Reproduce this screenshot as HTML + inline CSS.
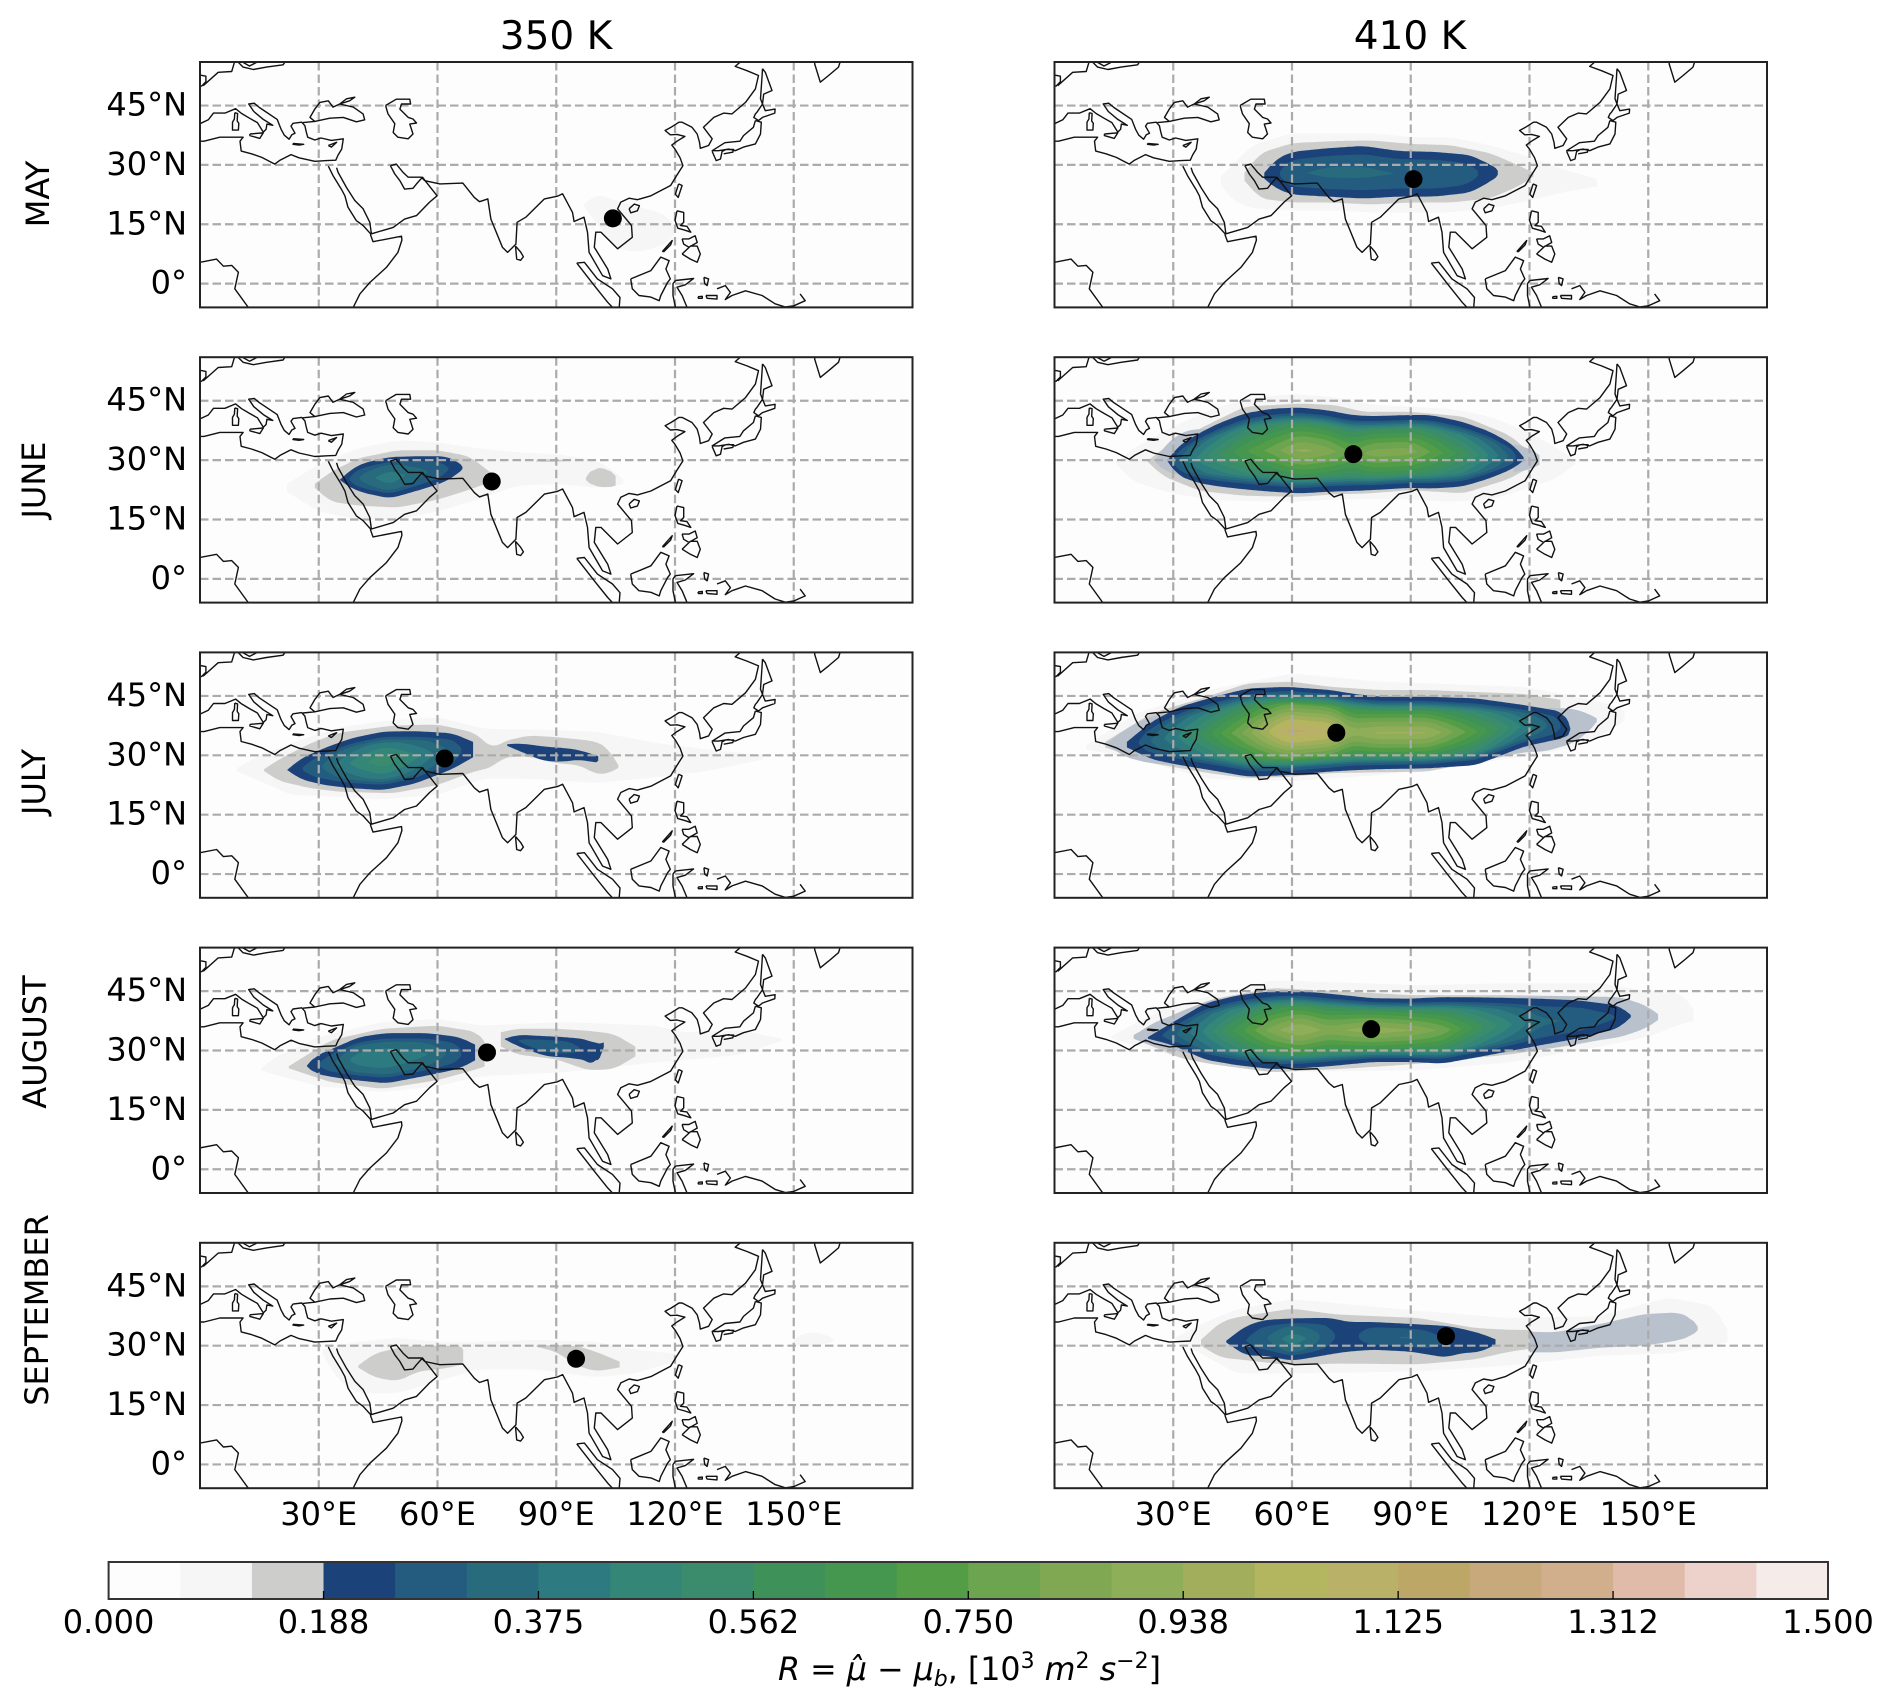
<!DOCTYPE html>
<html>
<head>
<meta charset="utf-8">
<title>Monthly R anomaly maps at 350 K and 410 K</title>
<style>
html,body{margin:0;padding:0;background:#fff;}
svg{display:block;}
text{font-family:"DejaVu Sans","Liberation Sans",sans-serif;fill:#000;}
</style>
</head>
<body>
<svg id="figure" xmlns="http://www.w3.org/2000/svg" width="1892" height="1706" viewBox="0 0 1892 1706">
  <rect x="0" y="0" width="1892" height="1706" fill="#fff"/>
  <text x="556" y="49" font-size="39" text-anchor="middle">350 K</text>
  <text x="1410" y="49" font-size="39" text-anchor="middle">410 K</text>
  <text transform="translate(49,194) rotate(-90)" font-size="32" text-anchor="middle">MAY</text>
  <text transform="translate(45,480) rotate(-90)" font-size="32" text-anchor="middle">JUNE</text>
  <text transform="translate(45,782) rotate(-90)" font-size="32" text-anchor="middle">JULY</text>
  <text transform="translate(46,1042) rotate(-90)" font-size="32" text-anchor="middle">AUGUST</text>
  <text transform="translate(48,1310) rotate(-90)" font-size="32" text-anchor="middle">SEPTEMBER</text>
  <text x="778" y="1680" font-size="31.7"><tspan font-style="italic">R</tspan> = <tspan font-style="italic">μ̂</tspan> − <tspan font-style="italic">μ</tspan><tspan font-style="italic" font-size="22" dy="6">b</tspan><tspan dy="-6">, [10</tspan><tspan font-size="22" dy="-12">3</tspan><tspan dy="12"> </tspan><tspan font-style="italic">m</tspan><tspan font-size="22" dy="-12">2</tspan><tspan dy="12"> </tspan><tspan font-style="italic">s</tspan><tspan font-size="22" dy="-12">−2</tspan><tspan dy="12">]</tspan></text>
</svg>
<script>
/* ---------- value arrays (lon, north lat, south lat[, ridge value]) ---------- */
const lonTicks = [30, 60, 90, 120, 150];
const lonTickLabels = ["30°E", "60°E", "90°E", "120°E", "150°E"];
const latTicks = [45, 30, 15, 0];
const latTickLabels = ["45°N", "30°N", "15°N", "0°"];
const colorbarTicks = [0, 0.1875, 0.375, 0.5625, 0.75, 0.9375, 1.125, 1.3125, 1.5];
const colorbarTickLabels = ["0.000", "0.188", "0.375", "0.562", "0.750", "0.938", "1.125", "1.312", "1.500"];
const levelColors = ["#fdfdfd","#f6f6f6","#cdcecb","#1b4279","#245c80","#276b7d","#2d7b80","#348677","#3a8c6c","#3d9159","#45964f","#539d47","#6ca44f","#80a852","#8fae5a","#a3ae5c","#b4b65f","#bab169","#bda767","#c8a97c","#d1ae8c","#e0bbaa","#edd1cb","#f5ebe9"];

const may350Light = [[97,20.1,19.5],[100.4,22.7,15],[105,21,9],[110,19.5,8],[115,18.4,8.9],[119,16.5,11],[120,13.5,13]];
const may350Marker = [104.3,16.5];

const may410Light = [[42,27,25],[45,30,21],[50,35,19],[60,38,18.5],[70,38,18.5],[80,38,18],[90,37,18],[100,37,18],[110,35,19],[120,32,21],[128,29,23],[137,26.5,24.5]];
const may410Gray = [[48,28,26],[52,33,21.5],[60,35.5,20.5],[70,36,20.5],[80,36.2,20],[90,35.3,20.5],[100,35,20.5],[110,33,21.5],[117,30,24.5],[121,28,27]];
const may410Core = [[53,28,26.5,.19],[56,31.5,24,.24],[60,33.3,22.5,.3],[68.8,34.2,22,.33],[78,34.8,21.5,.33],[87,33.5,22,.31],[96,33.3,22,.31],[105,32.5,23,.28],[111.4,29.5,26.5,.2],[112.3,28,28,.19]];
const may410Marker = [90.7,26.4];

const jun350Light = [[22,24,22],[30,29,17],[40,33,15],[50,35,15],[60,34.5,17],[70,33,20],[80,32,23.5],[90,31.5,24],[100,30,23],[105,27,23.5],[107,25,24]];
const jun350Gray = [[29,24,23],[33,27,19.5],[40,30.5,18.5],[50,32.5,18],[60,32.5,20],[68,31,22.5],[72,28,24],[75,25.5,24.5]];
const jun350GrayEast = [[97.5,25.5,25],[99,28,23.5],[103,28,23],[105,26,23.5]];
const jun350GrayMid = [[85,30,29.6],[88,30.3,29.5],[92,30,29.7]];
const jun350Core = [[35.3,25,25,.19],[38,27.5,23,.26],[41,29.2,21.8,.34],[48,30.8,20.3,.42],[56,31,22.6,.33],[62,31,24.5,.27],[65.5,29.5,26.8,.2],[66.5,28,28,.19]];
const jun350Marker = [73.7,24.6];

const jun410Light = [[15.5,29.5,29],[20,33,24.5],[30,38.5,21.5],[40,43,20],[50,45.7,19.6],[60,46.7,19.5],[70,46,20],[80,44,20.2],[90,43.5,20],[100,43,19.5],[110,41,20],[120,37,23],[127,33,25.5],[131.6,30,29]];
const jun410Gray = [[23.5,29.8,29.6],[27.5,33,25.9],[36.8,38,22.2],[48,43.5,21],[62,44.3,20.7],[71,43.9,21.4],[78,42.2,21.5],[90,42.2,22.4],[103.4,41,21.6],[115,36.3,25.3],[122.4,30,29.6]];
const jun410Tail = [[25.5,30,29.5],[28,34,27],[33,37.5,26],[36.5,37.8,27],[40,38,30]];
const jun410TailEast = [[116,34,27],[120,33,27.5],[122.8,31,29]];
const jun410Core = [[28.5,29.8,29.8,.19],[31,33.4,26.2,.3],[36,36.5,24.3,.45],[41,39.1,23.4,.55],[48,41.8,22.6,.68],[55,43,22,.78],[62,43.3,21.6,.9],[69,42.6,22,.85],[75,41.4,22.2,.75],[80,41.1,22.4,.85],[90,41.4,23,.85],[95,41.4,22.8,.75],[103,39.7,23.3,.6],[110,37.2,25.4,.43],[116,33.8,27.9,.28],[118.6,30.6,30,.19]];
const jun410Marker = [75.5,31.5];

const jul350Light = [[9.3,26.7,26],[15,30,23.5],[23,33,20],[35,37,19.5],[45,38.5,18.8],[60,39.7,20],[71.8,36.7,24.2],[85,36.5,24],[100,36,23],[116,33,24.5],[128,31.5,26],[142.5,30,29]];
const jul350Gray = [[16.2,26.5,26],[20,29,23.5],[27.8,33,21.7],[35,35.7,20.8],[48.7,37.5,20.4],[60,37.8,22.5],[69.5,35.7,26],[74,31.5,27],[76.5,33.5,29.5],[83,35,29.7],[90,34.6,28],[96,34,27.5],[100,33.5,25.2],[103,32,25.3],[106,27,27]];
const jul350Core = [[22,26.3,26.3,.19],[25.5,29.2,23.9,.25],[31.3,31.8,22.5,.32],[38.2,34.3,21.7,.45],[46.3,36,21.2,.55],[54.5,36.1,22.9,.45],[63.7,35.6,26.5,.3],[69,33.4,29.5,.2],[69.3,30,29.7,.19]];
const jul350CoreEast = [[77.6,32.8,32.4,.19],[81.1,33,30.9,.22],[87,32.2,28.5,.22],[92.5,31.8,28.4,.22],[96,31.3,29,.22],[100,30,28,.21],[101,29.6,29,.19]];
const jul350Marker = [61.8,29.2];

const jul410Light = [[8,32.5,31.5],[20.7,40.6,29],[39,46.5,24],[60,50.7,23.5],[82,48.6,25],[118.6,47.3,29.6],[131,45,32],[140,43,36],[144.3,41,39]];
const jul410Gray = [[12.8,33.4,32],[24.5,40.6,28],[39,45,25.5],[48.9,48.2,24.2],[60,48.6,24.6],[69.7,47.3,25.5],[82,46.5,25.7],[94.2,46.5,25.9],[118.6,45.5,30.7],[128,44,33]];
const jul410Tail = [[13.5,33.2,32.5],[18,36.7,29.5],[24,39.7,28],[40,43,27],[100,42,28],[118,41.5,30.7],[124,42,31],[131,41.8,33],[135,40.5,36],[137,39.3,38.5]];
const jul410Core = [[18.3,33.4,32,.19],[24.5,38.5,29,.32],[31.8,42.3,27.5,.45],[40.4,44.8,26.1,.65],[48.9,46.9,24.6,.85],[58.7,47.3,25,1.15],[69.7,46.5,25.9,1.1],[75,45.6,26.2,.9],[82,44.8,26.5,.95],[94.2,44.8,26.7,.95],[106.4,44.4,27.5,.7],[118.6,42.7,32.2,.42],[128.4,41,34.3,.25],[129.9,38.9,34.5,.2],[130.3,36.8,36.5,.19]];
const jul410Marker = [71.2,35.7];

const aug350Light = [[15.5,25.5,25],[18.4,28,24],[30,33.4,21],[46,37.2,19.5],[60,38,21],[71,36.3,23.5],[92,37.2,24.5],[115,36.3,27],[122,34.6,27.5],[137,35,29],[147,33,32.5]];
const aug350Gray = [[22.4,26,25.5],[33,32.6,22],[46,35.5,20.3],[60,36.3,22.5],[70,34.7,25.3],[72,32,26]];
const aug350GrayEast = [[76,34.6,31],[80,35.5,29],[90,35.5,27.8],[98,35,25],[104.6,34.2,25.3],[110,31,28.5]];
const aug350Core = [[27,26.2,26,.19],[29,28.5,24.2,.24],[33.3,30.4,23.3,.3],[40.2,33.4,22.4,.42],[47,34.4,21.7,.44],[57.5,34.4,23.7,.38],[65.5,33.4,25.4,.27],[69.5,31.5,27.5,.19]];
const aug350CoreEast = [[77,33,32.8,.19],[80.5,34,31,.26],[87.5,33.6,28.5,.3],[92,33.4,28.3,.3],[98,32.8,27.5,.23],[100,31.5,25.5,.2],[102.3,32.1,31.6,.19]];
const aug350Marker = [72.5,29.5];

const aug410Light = [[14.4,33.7,33],[28.7,41,29],[55,47.8,24.6],[92,46.5,25],[115,47,27],[138,47,31],[150,45,33.5],[158.6,44.4,36.8],[161.5,40.2,37.5]];
const aug410Gray = [[20,34,33],[32,40,28],[40,43,26.5],[55,45.8,24.5],[75,44.8,25.5],[90,44,26.5],[115,44,29],[132,43.7,31.5],[142,42.7,33.5],[146,40,37]];
const aug410Tail = [[20,33.8,33],[25,37,31],[40,43,28],[100,43,28],[125,43.8,30.5],[132,43.7,31.8],[143,43.5,33.4],[149.4,41.4,35.6],[152.9,38.9,38]];
const aug410Core = [[23.6,33.4,33,.19],[30,37.2,31.3,.3],[38,41.9,27.7,.45],[46,43.9,26.3,.65],[55,45,25.3,.85],[62,45,25.5,.95],[69,44.4,26,.85],[80.5,43.2,27.1,.92],[90,43.1,27.1,.88],[98,43.5,26.7,.8],[109,43.4,28.7,.55],[122,43.1,31.2,.33],[132,42.7,33,.3],[142.5,41.4,35.6,.25],[145.7,38.9,38.5,.19]];
const aug410Marker = [80,35.4];

const sep350Light = [[31,29,28],[35,30,21],[40,31,18],[50,32,18],[60,31,21],[70,31,24],[85,31.5,24],[100,31,22],[110,29,23],[120,28,26]];
const sep350LightEast = [[150,31.5,30.5],[153,33.5,29.5],[158,33,30.5],[160,31.5,31]];
const sep350Gray = [[40,25,24.5],[44,28,22],[50,29.5,21],[55,30,23.5],[60,30,24],[66,30,25],[66.5,29,26]];
const sep350GrayEast = [[85,30,29.7],[90,30.2,28.5],[95,30,25],[100,28.5,23.5],[106,26,24.5]];
const sep350Marker = [95,26.7];

const sep410Light = [[30.5,32,31.5],[36,35,28.5],[46,39.2,23],[60,41.8,23],[92,38.8,23.5],[115,37,25],[138,37.5,27.5],[155,42.2,28],[166.7,40,30],[170,34,31]];
const sep410Gray = [[37,31.5,30],[42,36,27],[46,37.2,26.6],[60,39.4,25],[71,37.9,25.5],[92,37,25.3],[106,34.5,26.5],[115,34,28.5],[122,34,29.5],[122.5,31,30]];
const sep410Tail = [[120,33.5,28.3],[126.5,33.4,28.3],[138,35.5,29.5],[149,38,30],[157.5,38.4,31.3],[161,37,32.5],[162.6,34.6,34]];
const sep410Core = [[43.4,31.3,30.8,.19],[48.3,35,27.5,.25],[53,36.5,27.5,.3],[60,36.9,26.2,.42],[65,37,27,.36],[70,37,27.9,.26],[74,36,28.5,.22],[80.5,36,29,.3],[90,35.5,28.5,.32],[99,35,27,.25],[102,34.5,28,.23],[108,33,28.5,.21],[111.7,31.5,30.5,.19]];
const sep410Marker = [98.9,32.4];

/* ---------- coastlines (lon, lat) ---------- */
const coastMediterranean = [[0,40.4],[2.1,41.4],[3.4,43.1],[6.3,43.1],[9,44.2],[10.5,43],[12.5,41.8],[14.5,40.7],[16,38.3],[16.7,39],[16.9,40.3],[18.4,40],[16,41.5],[13.6,43.5],[12.3,45.4],[13.7,45.6],[15,44.5],[19.5,41.5],[20.5,39],[21.3,37.5],[22.5,36.5],[23.2,37.6],[24,38],[23,39.8],[23.5,40.5],[25.7,40.8],[26.5,39.9],[26.8,38.5],[27.2,37],[29,36.3],[30.6,36.8],[33.2,36.2],[36.2,36.6],[35.8,34],[34.9,32.5],[34.3,31.2],[32,31.1],[29,30.9],[25,31.8],[23,32.6],[20.2,31.2],[18.9,30.2],[15.6,31.9],[13,32.8],[10.4,33.5],[10.1,36],[10.9,37],[5,37],[1,36],[0,36]];
const coastBlackSea = [[26,40.7],[29,41],[32.8,41.8],[36.2,42],[39.5,40.9],[41.6,41.4],[41.2,42.9],[38.7,44.6],[35.3,45.4],[33.6,44.6],[32.4,46.2],[30.3,45.8],[29,44.1],[27.8,42],[29,41]];
const coastAzov = [[35.3,45.4],[37,46.7],[39.1,47.1],[37.8,46.2],[35.3,45.4]];
const coastNorthEurope = [[0.8,50],[4.6,53.4],[8,53.6],[8.7,55.9]];
const coastBritain = [[0,52.7],[1.5,52.4],[1.5,51],[0.4,49.9],[0,49.9]];
const coastBaltic = [[9.7,55.9],[10.9,54.7],[13.5,54.1],[16.8,54.7],[21,55.3],[21.4,55.9]];
const coastZealand = [[10.9,55.9],[12.5,55],[14.3,55.9]];
const coastCrete = [[23.5,35.4],[26.2,35.2],[25,35],[23.5,35.2],[23.5,35.4]];
const coastCyprus = [[32.4,34.9],[34.5,35.7],[33.2,34.5],[32.4,34.9]];
const coastCorsicaSardinia = [[8.8,43.2],[9.5,43],[9.4,41.1],[9.8,40.5],[9.7,38.8],[8.2,38.8],[8.2,40.8],[8.7,41.6],[8.8,43.2]];
const coastSicily = [[12.6,37.8],[16,38.1],[15.1,36.7],[12.6,37.4],[12.6,37.8]];
const coastCaspian = [[46.9,45],[49.6,46.6],[53,46.6],[53.2,45.4],[50.9,45.4],[50.5,44.1],[52.6,42],[53.8,41.6],[54.7,40.6],[53,40.3],[53.8,37.8],[52.6,36.6],[50,37],[48.8,38.2],[49.2,40.4],[47.5,42.9],[46.9,45]];
const coastRedSeaAfrica = [[32.4,29.7],[33.6,27.3],[35.7,23.9],[36.6,22.2],[37.4,19.3],[39.5,15.9],[41.2,14.7],[43.1,12.6],[43.1,12.3],[43.7,10.6],[50.9,12],[51,11],[50,7.9],[47.1,4.1],[42.9,0.3],[40.4,-2.6],[38.7,-6]];
const coastArabia = [[34.5,29.3],[34.9,28.1],[37,24.3],[39.1,21],[41.2,18.9],[42.9,15.5],[43.3,12.6],[48.8,14.2],[51.7,16.3],[54.7,17.2],[58,20.6],[59.9,22.2],[57.2,25.6],[56.2,26.9],[54.7,25.2],[53.8,24.1],[51.7,23.9],[50.5,26],[49.2,27.7],[48.1,29.8]];
const coastSouthAsia = [[48.1,29.8],[49.6,30.2],[51.3,28.1],[52.6,26.9],[55.9,26.9],[56.8,26],[60.6,25.2],[66.4,25.4],[69.3,21.8],[70.6,20.7],[72.7,21.4],[73.5,16.3],[76.4,9.2],[77.7,7.9],[79.8,10],[80.1,15.5],[82.3,16.8],[87,21.4],[90.3,22.1],[91.6,22.7],[94.1,18],[94.5,15.7],[97,16.8],[97.9,13],[98.3,7.9],[101.7,2],[103.8,1.2],[103,3.7],[99.6,9.2],[100,13],[101.3,13],[105.5,8.8],[109.2,11.7],[109,14.7],[105.5,18.9],[106.3,20.6],[108.4,21.6],[110.5,21.2],[113.9,22.2],[118.9,24.8],[120.4,27.3],[122,29.8],[121.3,31.8],[120,34],[119.2,35],[120.5,36],[122.5,37.2],[120.5,37.7],[118.8,37.6],[117.5,38.7],[119,39.5],[121,40.8],[121.8,40.8],[124.3,39.5],[125.6,37.8],[126.2,35.7],[126.4,34.2],[128.5,34.9],[129.4,36.6],[127.2,39.5],[129.8,42],[132.3,43.1],[134.4,42.9],[137.8,45.8],[140.3,49.2],[141.1,52.6],[138.2,53.8],[135.2,54.9],[136.5,56]];
const coastSriLanka = [[79.7,9.5],[81,8],[81.7,6.8],[81,5.9],[80,6.2],[79.7,9.5]];
const coastHainan = [[108.4,18.9],[109.7,20.1],[111,19.7],[110.5,18.4],[108.8,17.9],[108.4,18.9]];
const coastTaiwan = [[120.9,25.2],[121.8,24.8],[120.8,21.8],[120.1,22.6],[120.9,25.2]];
const coastSakhalin = [[142.1,54.3],[142.8,53.4],[144.5,48.8],[142.4,47.9],[142.1,45.4],[141.6,46.7],[142,52.6],[142.1,54.3]];
const coastHokkaido = [[140.7,43.3],[142.1,45.4],[142.8,43.7],[145.3,44.1],[145.2,43.1],[142.1,42],[141.1,41.2],[139.9,42],[140.3,42.9],[140.7,43.3]];
const coastHonshu = [[140.3,41.2],[141.8,40.8],[141.6,37.8],[140.3,35.3],[137.3,34.5],[135.2,33.6],[133.6,34],[131,33.6],[129.4,33.6],[132.6,35.6],[136.4,36],[137.3,37.4],[139.8,39.5],[140.3,41.2]];
const coastKyushu = [[129.4,33.4],[130.4,31.1],[131.5,31.5],[131.9,33.4],[132.8,33.9],[134.8,33.9],[134.6,33.2],[132.3,32.8]];
const coastKamchatka = [[155.3,56],[155.3,55.5],[156.7,50.9],[158.8,52.6],[161.3,54.7],[161.7,56]];
const coastLuzon = [[120.5,18.4],[122.2,18],[122.2,15.5],[121.4,14.7],[123,14.5],[124,13],[122.5,13.5],[120.7,14],[120,16],[120.5,18.4]];
const coastVisayas = [[121.8,11.3],[123.5,11.3],[125.1,12.1],[125.6,10.4],[123.5,9.2],[122.2,10],[121.8,11.3]];
const coastMindanao = [[121.8,7.5],[123.9,9.5],[125.6,9.5],[126.4,7.5],[125.6,5.4],[123.9,6.2],[121.8,7.5]];
const coastPalawan = [[116.8,8.1],[119.3,10.9],[118.9,9.8],[117.2,8.1],[116.8,8.1]];
const coastBorneo = [[108.8,1.2],[113.9,3.3],[116.4,6.7],[118.5,5.8],[117.7,3.7],[118.8,1.2],[118.1,0.3],[116.4,-3],[116,-4.3],[113.9,-3.4],[110.9,-3],[109.2,-1.3],[108.8,1.2]];
const coastSumatra = [[95.2,5.2],[97.1,5.4],[100.4,1.2],[104.2,-1.3],[106.1,-3.5],[105.9,-6]];
const coastSumatraWest = [[95.2,5.2],[99.6,-0.5],[103,-4.7],[104.2,-6]];
const coastSulawesi = [[120.1,0.8],[124.7,1.3],[122.6,-0.3],[120.5,-0.9],[121.8,-3],[123,-5.9]];
const coastSulawesiWest = [[120.1,-5.9],[119.5,-3],[119.5,0],[120.1,0.8]];
const coastHalmahera = [[127.3,1.6],[128.5,1.2],[128.1,-.5],[127.5,0],[127.3,1.6]];
const coastBuru = [[125.8,-3.3],[126.9,-3.2],[126.9,-3.7],[125.9,-3.7],[125.8,-3.3]];
const coastSeram = [[127.8,-3],[130.6,-3],[130.6,-3.9],[128.1,-3.7],[127.8,-3]];
const coastNewGuinea = [[130.6,-1.3],[132.7,-.5],[134,-2.2],[132.7,-4],[134.4,-3],[137.8,-1.8],[142,-3],[145.3,-5.1],[147.9,-5.9],[150,-5.6],[152.9,-4.3],[151.6,-2.6]];
const coastEquatorialAfrica = [[0,5.4],[4.2,6.2],[5.9,4.4],[8,4.6],[9.7,2.9],[8.8,-1.3],[12.2,-6]];
const coastlines = [coastMediterranean,coastBlackSea,coastAzov,coastNorthEurope,coastBritain,coastBaltic,coastZealand,coastCrete,coastCyprus,coastCorsicaSardinia,coastSicily,coastCaspian,coastRedSeaAfrica,coastArabia,coastSouthAsia,coastSriLanka,coastHainan,coastTaiwan,coastSakhalin,coastHokkaido,coastHonshu,coastKyushu,coastKamchatka,coastLuzon,coastVisayas,coastMindanao,coastPalawan,coastBorneo,coastSumatra,coastSumatraWest,coastSulawesi,coastSulawesiWest,coastHalmahera,coastBuru,coastSeram,coastNewGuinea,coastEquatorialAfrica];

const panels = [
 {id:'may-350',col:0,row:0,light:[may350Light],gray:[],tail:[],core:[],marker:may350Marker},
 {id:'may-410',col:1,row:0,light:[may410Light],gray:[may410Gray],tail:[],core:[may410Core],marker:may410Marker},
 {id:'june-350',col:0,row:1,light:[jun350Light],gray:[jun350Gray,jun350GrayEast,jun350GrayMid],tail:[],core:[jun350Core],marker:jun350Marker},
 {id:'june-410',col:1,row:1,light:[jun410Light],gray:[jun410Gray],tail:[jun410Tail,jun410TailEast],core:[jun410Core],marker:jun410Marker},
 {id:'july-350',col:0,row:2,light:[jul350Light],gray:[jul350Gray],tail:[],core:[jul350Core,jul350CoreEast],marker:jul350Marker},
 {id:'july-410',col:1,row:2,light:[jul410Light],gray:[jul410Gray],tail:[jul410Tail],core:[jul410Core],marker:jul410Marker},
 {id:'august-350',col:0,row:3,light:[aug350Light],gray:[aug350Gray,aug350GrayEast],tail:[],core:[aug350Core,aug350CoreEast],marker:aug350Marker},
 {id:'august-410',col:1,row:3,light:[aug410Light],gray:[aug410Gray],tail:[aug410Tail],core:[aug410Core],marker:aug410Marker},
 {id:'september-350',col:0,row:4,light:[sep350Light,sep350LightEast],gray:[sep350Gray,sep350GrayEast],tail:[],core:[],marker:sep350Marker},
 {id:'september-410',col:1,row:4,light:[sep410Light],gray:[sep410Gray],tail:[sep410Tail],core:[sep410Core],marker:sep410Marker}
];

/* ---------- layout and axis functions ---------- */
const NS = 'http://www.w3.org/2000/svg';
const svg = document.getElementById('figure');
const colLeft = [200, 1054.5];
const rowTop = [62, 357.2, 652.4, 947.6, 1242.8];
const panelW = 712.5, panelH = 245.4;
const LON_MAX = 180, LAT_MAX = 56, LAT_MIN = -6;
const BASE = 0.1875, STEP = 0.0625;

function make(tag, attrs, parent) {
  const e = document.createElementNS(NS, tag);
  for (const k in attrs) e.setAttribute(k, attrs[k]);
  parent.appendChild(e);
  return e;
}
function xScale(p, lon) { return colLeft[p.col] + lon / LON_MAX * panelW; }
function yScale(p, lat) { return rowTop[p.row] + (LAT_MAX - lat) / (LAT_MAX - LAT_MIN) * panelH; }

/* fraction of the core half-width occupied by a level, by its depth below the ridge */
function crossSection(u) {
  const knotU = [0, 0.15, 0.4, 0.9, 1];
  const knotW = [0, 0.27, 0.6, 0.86, 1];
  for (let i = 1; i < knotU.length; i++) {
    if (u <= knotU[i]) return knotW[i - 1] + (knotW[i] - knotW[i - 1]) * (u - knotU[i - 1]) / (knotU[i] - knotU[i - 1]);
  }
  return 1;
}
function sampleStations(st) {
  const out = [];
  const first = st[0][0], last = st[st.length - 1][0];
  let j = 0;
  for (let l = first; l <= last + 1e-6; l += 0.5) {
    while (j < st.length - 2 && st[j + 1][0] < l) j++;
    const a = st[j], b = st[j + 1];
    const t = Math.min(1, (l - a[0]) / (b[0] - a[0]));
    out.push([l, a[1] + (b[1] - a[1]) * t, a[2] + (b[2] - a[2]) * t, a.length > 3 ? a[3] + (b[3] - a[3]) * t : 0]);
  }
  const w = 4, sm = [];
  for (let i = 0; i < out.length; i++) {
    const lo = Math.max(0, i - w), hi = Math.min(out.length - 1, i + w);
    const r = Math.min(i - lo, hi - i);
    let n = 0, s = 0, v = 0, c = 0;
    for (let k = i - r; k <= i + r; k++) { n += out[k][1]; s += out[k][2]; v += out[k][3]; c++; }
    sm.push([out[i][0], n / c, s / c, v / c]);
  }
  return sm;
}
function polygonPath(p, top, bot) {
  let d = '';
  top.forEach((q, i) => { d += (i ? 'L' : 'M') + xScale(p, q[0]).toFixed(1) + ' ' + yScale(p, q[1]).toFixed(1); });
  for (let i = bot.length - 1; i >= 0; i--) d += 'L' + xScale(p, bot[i][0]).toFixed(1) + ' ' + yScale(p, bot[i][1]).toFixed(1);
  return d + 'Z';
}
function outlinePath(p, st) {
  const s = sampleStations(st);
  return polygonPath(p, s.map(q => [q[0], q[1]]), s.map(q => [q[0], q[2]]));
}
function bandPaths(p, st, level) {
  const s = sampleStations(st), paths = [];
  let top = [], bot = [];
  const flush = () => { if (top.length > 1) paths.push(polygonPath(p, top, bot)); top = []; bot = []; };
  s.forEach(q => {
    if (q[3] > level) {
      const mid = (q[1] + q[2]) / 2, hw = (q[1] - q[2]) / 2;
      const half = hw * crossSection(Math.max(0, (q[3] - level) / (q[3] - BASE)));
      top.push([q[0], mid + half]);
      bot.push([q[0], mid - half]);
    } else flush();
  });
  flush();
  return paths;
}

const defs = make('defs', {}, svg);

/* ---------- draw map panels ---------- */
panels.forEach(p => {
  const x0 = colLeft[p.col], y0 = rowTop[p.row];
  const group = make('g', {}, svg);
  
  

  const clip = make('clipPath', { id: 'clip-' + p.id }, defs);
  make('rect', { x: x0, y: y0, width: panelW, height: panelH }, clip);

  const bg = make('rect', { x: x0, y: y0, width: panelW, height: panelH, fill: levelColors[0] }, group);
  
  

  const field = make('g', { 'clip-path': 'url(#clip-' + p.id + ')' }, group);
  
  

  p.light.forEach(st => {
    const e = make('path', { d: outlinePath(p, st), fill: levelColors[1] }, field);
    
    
  });
  p.gray.forEach(st => {
    const e = make('path', { d: outlinePath(p, st), fill: levelColors[2] }, field);
    
    
  });
  p.tail.forEach(st => {
    const e = make('path', { d: outlinePath(p, st), fill: '#b9c1cd' }, field);
    
    
  });
  p.core.forEach(st => {
    for (let k = 3; k < levelColors.length; k++) {
      const level = k * STEP;
      bandPaths(p, st, level).forEach(d => {
        const e = make('path', { d: d, fill: levelColors[k] }, field);
        
        
      });
    }
  });

  lonTicks.forEach(lon => {
    const e = make('line', { x1: xScale(p, lon), x2: xScale(p, lon), y1: y0, y2: y0 + panelH, stroke: '#ababab', 'stroke-width': 2.2, 'stroke-dasharray': '8.5 4' }, field);
    
    
  });
  latTicks.forEach(lat => {
    const e = make('line', { x1: x0, x2: x0 + panelW, y1: yScale(p, lat), y2: yScale(p, lat), stroke: '#ababab', 'stroke-width': 2.2, 'stroke-dasharray': '8.5 4' }, field);
    
    
  });

  let coast = '';
  coastlines.forEach(line => {
    line.forEach((q, i) => { coast += (i ? 'L' : 'M') + xScale(p, q[0]).toFixed(1) + ' ' + yScale(p, q[1]).toFixed(1); });
  });
  const coastEl = make('path', { d: coast, fill: 'none', stroke: '#111', 'stroke-width': 1.4, 'stroke-linejoin': 'round' }, field);
  
  

  const marker = make('circle', { cx: xScale(p, p.marker[0]), cy: yScale(p, p.marker[1]), r: 9, fill: '#000' }, field);
  
  

  const frame = make('rect', { x: x0, y: y0, width: panelW, height: panelH, fill: 'none', stroke: '#222', 'stroke-width': 2 }, group);
  
  

  if (p.col === 0) {
    latTicks.forEach((lat, i) => {
      const t = make('text', { x: x0 - 13, y: yScale(p, lat) + 10, 'font-size': 32, 'text-anchor': 'end' }, group);
      
      
      t.textContent = latTickLabels[i];
    });
  }
  if (p.row === rowTop.length - 1) {
    lonTicks.forEach((lon, i) => {
      const t = make('text', { x: xScale(p, lon), y: 1525, 'font-size': 32, 'text-anchor': 'middle' }, group);
      
      
      t.textContent = lonTickLabels[i];
    });
  }
});

/* ---------- colorbar ---------- */
const cbLeft = 108.6, cbRight = 1828, cbTop = 1562, cbBottom = 1599;
const cbMax = 1.5;
function cbScale(v) { return cbLeft + v / cbMax * (cbRight - cbLeft); }
const cb = make('g', {}, svg);


levelColors.forEach((c, k) => {
  const x = cbScale(k * STEP), x2 = cbScale((k + 1) * STEP);
  const r = make('rect', { x: x, y: cbTop, width: x2 - x + 0.4, height: cbBottom - cbTop, fill: c }, cb);
  
  
});
const cbFrame = make('rect', { x: cbLeft, y: cbTop, width: cbRight - cbLeft, height: cbBottom - cbTop, fill: 'none', stroke: '#333', 'stroke-width': 2 }, cb);


colorbarTicks.forEach((v, i) => {
  if (i > 0 && i < colorbarTicks.length - 1) {
    const tick = make('line', { x1: cbScale(v), x2: cbScale(v), y1: cbBottom - 8, y2: cbBottom, stroke: '#000', 'stroke-width': 1.3 }, cb);
    
    
  }
  const t = make('text', { x: cbScale(v), y: 1633, 'font-size': 32, 'text-anchor': 'middle' }, cb);
  
  
  t.textContent = colorbarTickLabels[i];
});
</script>
</body>
</html>
